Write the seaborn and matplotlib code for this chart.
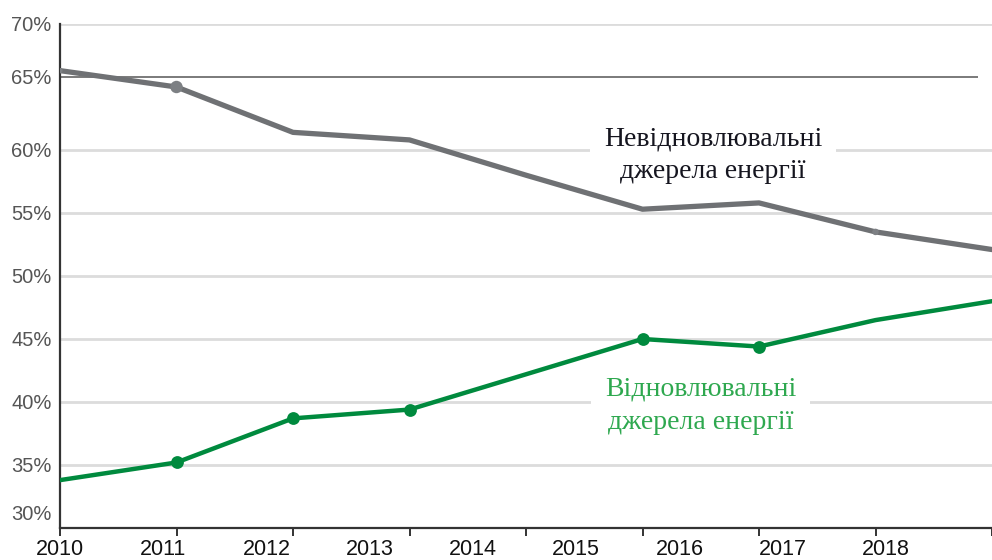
import matplotlib
matplotlib.use("Agg")
import matplotlib.pyplot as plt
import numpy as np
import seaborn as sns

# Share of energy sources, %
years = [2010, 2011, 2012, 2013, 2014, 2015, 2016, 2017, 2018]
non_renewable = [66.3, 65.0, 61.4, 60.8, 58.0, 55.3, 55.8, 53.5, 52.1]
renewable = [33.8, 35.2, 38.7, 39.4, 42.2, 45.0, 44.4, 46.5, 48.0]

# Years that carry a point marker on each line
non_renewable_marked = [2010, 2011, 2017]
non_renewable_marker_sizes = [14, 80, 22]
renewable_marked = [2011, 2012, 2013, 2015, 2016]

year_labels = ["2010", "2011", "2012", "2013", "2014", "2015", "2016", "2017", "2018"]
pct_labels = ["30%", "35%", "40%", "45%", "50%", "55%", "60%", "65%", "70%"]
pct_label_pos = [31.2, 35, 40, 45, 50, 55, 60, 65.8, 70]
grid_levels = [30, 35, 40, 45, 50, 55, 60, 70]
marked_level = 65.8

GREY = "#6f7174"
GREEN = "#008a3e"
TEXT_GREEN = "#2ea84f"

sns.set_theme(style="white")
plt.rcParams["font.family"] = ["Liberation Sans", "DejaVu Sans"]

fig = plt.figure(figsize=(9.92, 5.6), dpi=100)
ax = fig.add_axes([60 / 992, 32 / 560, 1 - 60 / 992, 504 / 560])
ax.set_xlim(2010, 2010 + 932 / 117.57)
ax.set_ylim(30, 70)

# Horizontal guides
for lvl in grid_levels:
    ax.axhline(lvl, color="#dcdcdc", lw=2, zorder=0)
ax.hlines(marked_level, 2010, 2017.88, color="#7a7a7a", lw=1.4, zorder=1)

# Lines
sns.lineplot(x=years, y=non_renewable, color=GREY, linewidth=3.8, ax=ax,
             zorder=3)
sns.lineplot(x=years, y=renewable, color=GREEN, linewidth=3.2, ax=ax,
             zorder=3)

nr_lookup = dict(zip(years, non_renewable))
r_lookup = dict(zip(years, renewable))
ax.scatter(non_renewable_marked, [nr_lookup[y] for y in non_renewable_marked],
           s=non_renewable_marker_sizes, color="#7d8084", zorder=4, linewidths=0)
sns.scatterplot(x=renewable_marked, y=[r_lookup[y] for y in renewable_marked],
                s=85, color=GREEN, edgecolor=None, linewidth=0, ax=ax, zorder=4)

# Axes styling
for side in ("top", "right"):
    ax.spines[side].set_visible(False)
for side in ("left", "bottom"):
    ax.spines[side].set_color("#333333")
    ax.spines[side].set_linewidth(1.6)

ax.xaxis.remove_overlapping_locs = False
ax.set_xticks(years)
ax.set_xticklabels([])
ax.tick_params(axis="x", which="major", direction="out", length=5.5, width=1.4,
               color="#333333", bottom=True)
label_pos = np.linspace(2010, 2017.09, len(year_labels))
ax.set_xticks(label_pos, minor=True)
ax.set_xticklabels(year_labels, minor=True)
ax.tick_params(axis="x", which="minor", length=0, pad=8, labelsize=15.5,
               labelcolor="#111111")

ax.set_yticks(pct_label_pos)
ax.set_yticklabels(pct_labels)
ax.tick_params(axis="y", length=0, pad=6, labelsize=14.5, labelcolor="#555555")

ax.set_xlabel("")
ax.set_ylabel("")

# Series captions sit on white panels beneath the lines
serif = ["Liberation Serif", "DejaVu Serif"]
ax.text(2015.605, 59.6, "Невідновлювальні\nджерела енергії", ha="center",
        va="center", fontsize=20, family=serif, color="#15151f",
        linespacing=1.4, zorder=2,
        bbox=dict(boxstyle="square,pad=0.5", fc="white", ec="none"))
ax.text(2015.50, 39.7, "Відновлювальні\nджерела енергії", ha="center",
        va="center", fontsize=20, family=serif, color=TEXT_GREEN,
        linespacing=1.4, zorder=2,
        bbox=dict(boxstyle="square,pad=0.5", fc="white", ec="none"))

fig.savefig("out.png", dpi=100, facecolor="white")
